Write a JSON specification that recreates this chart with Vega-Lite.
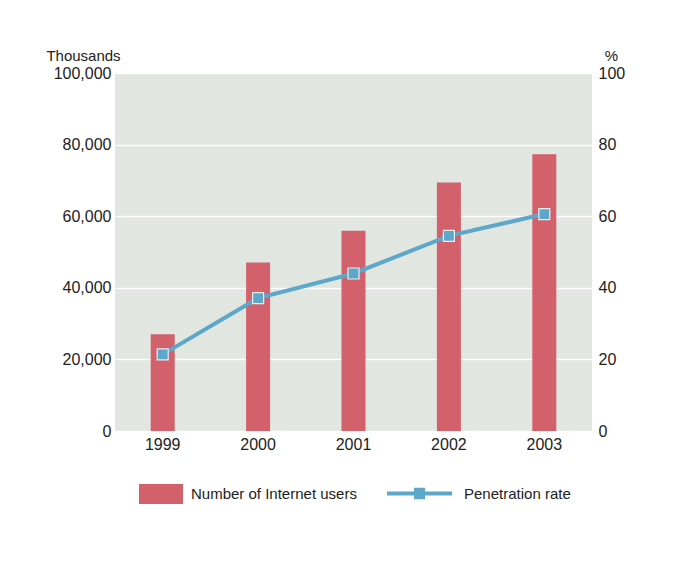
{
  "$schema": "https://vega.github.io/schema/vega-lite/v6.json",
  "width": 477,
  "height": 358,
  "autosize": {"type": "none"},
  "padding": {"left": 115, "top": 73, "right": 86, "bottom": 136},
  "background": "white",
  "config": {
    "view": {"fill": "#E1E6E1", "stroke": null},
    "font": "Liberation Sans",
    "axis": {"domain": false, "ticks": false, "labelFontSize": 16, "labelColor": "#222222", "labelFont": "Liberation Sans", "titleFont": "Liberation Sans", "titleColor": "#222222", "titleFontWeight": "normal"},
    "legend": {"labelFont": "Liberation Sans", "labelFontSize": 15, "labelColor": "#222222", "padding": 0, "labelLimit": 400}
  },
  "data": {
    "values": [
      {"year": "1999", "users": 27060, "rate": 21.4},
      {"year": "2000", "users": 47080, "rate": 37.1},
      {"year": "2001", "users": 55930, "rate": 44.0},
      {"year": "2002", "users": 69420, "rate": 54.5},
      {"year": "2003", "users": 77300, "rate": 60.6}
    ]
  },
  "layer": [
    {
      "mark": {"type": "bar", "width": 24},
      "encoding": {
        "x": {"field": "year", "type": "ordinal", "scale": {"paddingInner": 0, "paddingOuter": 0},
              "axis": {"labelAngle": 0, "title": null, "labelPadding": 5, "labelFontSize": 16}},
        "y": {"field": "users", "type": "quantitative", "scale": {"domain": [0, 100000]},
              "axis": {"orient": "left", "values": [0, 20000, 40000, 60000, 80000, 100000], "format": ",d",
                       "grid": true, "gridColor": "white", "gridWidth": 1.5, "labelPadding": 4,
                       "title": "Thousands", "titleAngle": 0, "titleX": -32, "titleY": -13,
                       "titleAlign": "center", "titleBaseline": "alphabetic", "titleFontSize": 15}},
        "color": {"datum": "Number of Internet users", "scale": {"range": ["#D3616B"]},
                  "legend": {"orient": "none", "legendX": 24, "legendY": 399, "title": null,
                             "symbolType": "M-1,-0.4545H1V0.4545H-1Z", "symbolSize": 1936,
                             "symbolStrokeWidth": 0, "labelOffset": 8}}
      }
    },
    {
      "encoding": {
        "x": {"field": "year", "type": "ordinal"},
        "y": {"field": "rate", "type": "quantitative", "scale": {"domain": [0, 100]},
              "axis": {"orient": "right", "values": [0, 20, 40, 60, 80, 100], "grid": false, "labelPadding": 6,
                       "title": "%", "titleAngle": 0, "titleX": 19, "titleY": -13,
                       "titleAlign": "center", "titleBaseline": "alphabetic", "titleFontSize": 15}}
      },
      "layer": [
        {
          "mark": {"type": "line", "strokeWidth": 4},
          "encoding": {
            "stroke": {"datum": "Penetration rate", "scale": {"range": ["#5CA7CA"]},
                       "legend": {"orient": "none", "legendX": 272, "legendY": 388, "title": null,
                                  "symbolType": "M-1,-0.0615H1V0.0615H-1Z M-0.17,-0.18H0.17V0.18H-0.17Z",
                                  "symbolSize": 4225, "symbolFillColor": "#5CA7CA", "symbolStrokeWidth": 0,
                                  "labelOffset": 12}}
          }
        },
        {
          "mark": {"type": "point", "shape": "square", "filled": true, "size": 121, "color": "#5CA7CA",
                   "stroke": "#E6EEF0", "strokeWidth": 1.2, "opacity": 1}
        }
      ]
    }
  ],
  "resolve": {"scale": {"y": "independent"}}
}
